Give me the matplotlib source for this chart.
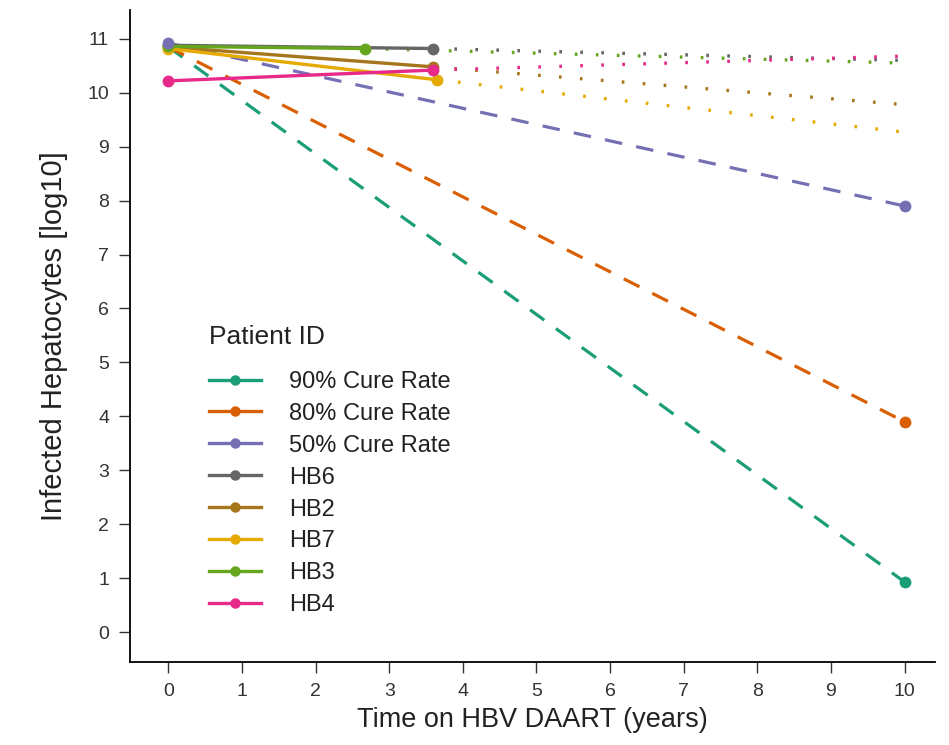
import matplotlib
matplotlib.use("Agg")
import matplotlib.pyplot as plt
from matplotlib.lines import Line2D

plt.rcParams["font.family"] = ["Liberation Sans", "DejaVu Sans"]

# model projections (dashed): start value at t=0, end value at t=10
cure_labels = ["90% Cure Rate", "80% Cure Rate", "50% Cure Rate"]
cure_colors = ["#1B9E77", "#D95F02", "#7570B3"]
cure_start = [10.85, 10.85, 10.92]
cure_end = [0.93, 3.9, 7.9]
cure_t = [0, 10]

# patients: observed segment (solid) + extrapolation (dotted)
patient_labels = ["HB6", "HB2", "HB7", "HB3", "HB4"]
patient_colors = ["#666666", "#A6761D", "#E6AB02", "#66A61E", "#E7298A"]
patient_t_last = [3.6, 3.6, 3.65, 2.67, 3.6]
patient_start = [10.88, 10.85, 10.82, 10.86, 10.22]
patient_last = [10.82, 10.48, 10.24, 10.82, 10.42]
patient_proj_end = [10.6, 9.78, 9.27, 10.55, 10.68]
proj_t_end = 10

fig = plt.figure(figsize=(9.49, 7.45), dpi=100)
ax = fig.add_axes([0.137, 0.111, 0.848, 0.876])

lw = 2.3
for lab, col, y0, y1 in zip(cure_labels, cure_colors, cure_start, cure_end):
    ax.plot(cure_t, [y0, y1], color=col, lw=lw, ls=(0, (5.5, 4.5)), zorder=2)
    ax.plot(cure_t[1], y1, "o", color=col, ms=7.5, zorder=3)
ax.plot(0, cure_start[2], "o", color=cure_colors[2], ms=7.5, zorder=5)

for lab, col, t1, y0, y1, y2 in zip(patient_labels, patient_colors, patient_t_last,
                                    patient_start, patient_last, patient_proj_end):
    ax.plot([t1, proj_t_end], [y1, y2], color=col, lw=2.4, ls=(0, (0.8, 5.5)), zorder=2)
    ax.plot([0, t1], [y0, y1], color=col, lw=2.4, marker="o", ms=7.5, zorder=4)

handles = [Line2D([], [], color=c, lw=2.4, marker="o", ms=6.5) for c in cure_colors + patient_colors]
leg = ax.legend(handles, cure_labels + patient_labels, title="Patient ID",
                loc="lower left", bbox_to_anchor=(0.072, 0.038), frameon=False,
                fontsize=17, title_fontsize=19, handlelength=2.2,
                labelspacing=0.42, handletextpad=1.2)
leg._legend_box.align = "left"
leg._legend_box.sep = 16
leg.get_title().set_color("#222222")
for t in leg.get_texts():
    t.set_color("#222222")

ax.set_xlim(-0.52, 10.41)
ax.set_ylim(-0.56, 11.54)
ax.set_xticks(range(0, 11))
ax.set_yticks(range(0, 12))
ax.spines["top"].set_visible(False)
ax.spines["right"].set_visible(False)
ax.spines["left"].set_linewidth(1.3)
ax.spines["bottom"].set_linewidth(1.3)
ax.tick_params(direction="out", length=8, width=1, labelsize=14, colors="#333333", pad=7)
ax.set_xlabel("Time on HBV DAART (years)", fontsize=19.5, color="#222222", labelpad=5)
ax.set_ylabel("Infected Hepatocytes [log10]", fontsize=21, color="#222222", labelpad=14)

fig.savefig("out.png", dpi=100)
